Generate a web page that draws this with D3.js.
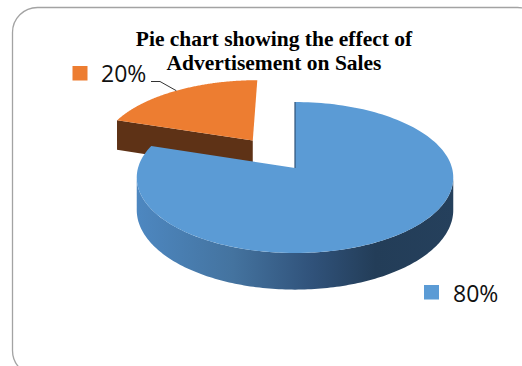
<!DOCTYPE html>
<html>
<head>
<meta charset="utf-8">
<script src="https://cdn.jsdelivr.net/npm/d3@7"></script>
<style>
  html, body { margin: 0; padding: 0; background: #fff; }
  svg { display: block; }
</style>
</head>
<body>
<script>
// Share of sales (percent)
const categories = ["Advertised", "Not advertised"];
const values = [80, 20];
const valueLabels = ["80%", "20%"];
const colors = ["#5b9bd5", "#ed7d31"];
const sideColors = ["#3d6b98", "#5e3216"];
const titleLines = ["Pie chart showing the effect of", "Advertisement on Sales"];
const exploded = [0, 0.48];

const W = 522, H = 366;
const svg = d3.select("body").append("svg").attr("width", W).attr("height", H);

// frame
svg.append("rect")
  .attr("x", 12.5).attr("y", 7.5).attr("width", 530).attr("height", 368)
  .attr("rx", 25).attr("ry", 25)
  .attr("fill", "#fff").attr("stroke", "#a3a3a3").attr("stroke-width", 1.3);

// title
const title = svg.append("text")
  .attr("text-anchor", "middle")
  .attr("font-family", "'Liberation Serif', 'Times New Roman', serif")
  .attr("font-weight", "bold").attr("font-size", 21.5).attr("fill", "#000");
titleLines.forEach((t, i) => {
  title.append("tspan").attr("x", 274).attr("y", 46 + i * 24).text(t);
});

// 3D pie projection: disk coords (u right, v toward viewer), depth h (0 top, 1 bottom)
const persp = 0.126;
const xs = d3.scaleLinear().domain([-1, 1]).range([295 - 157, 295 + 157]);
const ys = d3.scaleLinear().domain([-1, 1]).range([168 - 74.3, 168 + 74.3]);
const thick = 32 / 74.3;
function project(u, v, h) {
  const w = 1 - persp * v;
  return [xs(u / w), ys((v + thick * h) / w)];
}
function rim(a, off, h) {
  return project(off[0] + Math.sin(a), off[1] - Math.cos(a), h);
}

const arcs = d3.pie().sort(null).value(d => d)(values);
const line = d3.line();

const defs = svg.append("defs");
const grad = defs.append("linearGradient").attr("id", "sideBlue")
  .attr("gradientUnits", "userSpaceOnUse")
  .attr("x1", 138).attr("x2", 455).attr("y1", 0).attr("y2", 0);
[[0, "#4d87c0"], [0.3, "#44739f"], [0.55, "#30527a"], [0.75, "#233d58"], [1, "#25405c"]]
  .forEach(([o, c]) => grad.append("stop").attr("offset", o).attr("stop-color", c));

const N = 160;
const slices = arcs.map((a, i) => {
  const mid = (a.startAngle + a.endAngle) / 2;
  const off = [exploded[i] * Math.sin(mid), -exploded[i] * Math.cos(mid)];
  return { a, i, mid, off };
});

// draw the exploded (back) slice first, then the main slice
const order = [1, 0];
order.forEach(idx => {
  const s = slices[idx];
  const { startAngle: a0, endAngle: a1 } = s.a;
  const g = svg.append("g");
  const angles = d3.range(N + 1).map(j => a0 + (a1 - a0) * j / N);

  // outer side wall between the screen silhouette points
  const top = angles.map(a => rim(a, s.off, 0));
  let iMax = d3.maxIndex(top, p => p[0]);
  let iMin = d3.minIndex(top, p => p[0]);
  if (iMin > iMax) {
    const lo = angles[iMax], hi = angles[iMin];
    const sub = d3.range(N + 1).map(j => lo + (hi - lo) * j / N);
    const pts = sub.map(a => rim(a, s.off, 0))
      .concat(sub.slice().reverse().map(a => rim(a, s.off, 1)));
    g.append("path").attr("d", line(pts) + "Z")
      .attr("fill", idx === 0 ? "url(#sideBlue)" : sideColors[idx]);
  }

  // radial wall at the start angle (faces the viewer for the small slice)
  if (idx === 1) {
    const c0 = project(s.off[0], s.off[1], 0), c1 = project(s.off[0], s.off[1], 1);
    const pts = [rim(a0, s.off, 0), c0, c1, rim(a0, s.off, 1)];
    g.append("path").attr("d", line(pts) + "Z").attr("fill", sideColors[idx]);
  }

  // top face
  const face = [project(s.off[0], s.off[1], 0)].concat(top);
  g.append("path").attr("d", line(face) + "Z").attr("fill", colors[idx]);

  if (idx === 0) {
    // edge of the cut at angle 0
    g.append("path")
      .attr("d", line([project(s.off[0], s.off[1], 0), rim(a0, s.off, 0)]))
      .attr("stroke", "#2f5378").attr("stroke-width", 1.2).attr("fill", "none");
  }
});

// leader line for the small slice
const anchor = rim(slices[1].mid, slices[1].off, 0);
svg.append("path")
  .attr("d", line([[151, 81.5], [160, 81.5], anchor]))
  .attr("fill", "none").attr("stroke", "#333").attr("stroke-width", 1);

// data labels with legend keys
const labelPos = [
  { key: [424, 285], text: [453, 302] },
  { key: [72.5, 66], text: [101, 82] }
];
labelPos.forEach((p, i) => {
  svg.append("rect").attr("x", p.key[0]).attr("y", p.key[1])
    .attr("width", 15).attr("height", 14.5).attr("fill", colors[i]);
  svg.append("text").attr("x", p.text[0]).attr("y", p.text[1])
    .attr("font-family", "'Open Sans', 'Noto Sans', sans-serif")
    .attr("font-size", 23).attr("fill", "#111").text(valueLabels[i]);
});
</script>
</body>
</html>
